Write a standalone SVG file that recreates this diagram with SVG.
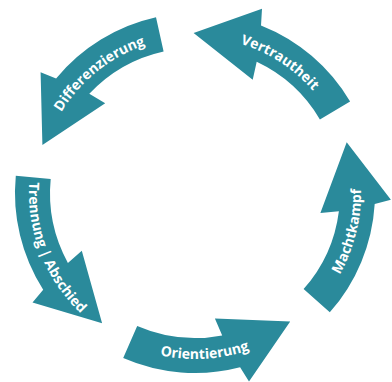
<svg xmlns="http://www.w3.org/2000/svg" width="392" height="382" viewBox="0 0 392 382">
  <!-- Five-stage cycle: curved block arrows around centre (195,193), band r=145..180 -->
  <style>
    .arrow { fill: #2a8a9b; }
    .label { fill: #ffffff; font-family: "Open Sans", "Liberation Sans", sans-serif; font-weight: 700; font-size: 14px; }
  </style>
  <defs>
    <!-- label baselines: counter-clockwise arcs (tops inward) at r=166, clockwise arcs (tops outward) at r=156 -->
    <path id="p-orientierung" d="M85,317.3 A166,166 0 0,0 319.3,303.0"/>
    <path id="p-machtkampf" d="M280.5,335.3 A166,166 0 0,0 337.3,107.5"/>
    <path id="p-vertrautheit" d="M162.6,40.4 A156,156 0 0,1 347.6,160.6"/>
    <path id="p-differenzierung" d="M39.9,175.9 A156,156 0 0,1 212.1,37.9"/>
    <path id="p-trennung" d="M42.9,126.5 A166,166 0 0,0 128.5,345.1"/>
  </defs>
  <rect width="392" height="382" fill="#ffffff"/>

  <g id="stage-orientierung">
    <path class="arrow" d="M123.2,358.1 A180,180 0 0,0 240.1,367.3 L249.0,381.4 L290.2,321.6 L214.9,318.4 L222.2,335.4 A145,145 0 0,1 137.2,326.0 Z"/>
    <text class="label"><textPath href="#p-orientierung" startOffset="50%" text-anchor="middle">Orientierung</textPath></text>
  </g>

  <g id="stage-machtkampf">
    <path class="arrow" d="M329.8,312.3 A180,180 0 0,0 374.7,204.0 L390.9,199.8 L346.7,142.2 L320.4,212.9 L338.9,211.2 A145,145 0 0,1 303.6,289.1 Z"/>
    <text class="label"><textPath href="#p-machtkampf" startOffset="50%" text-anchor="middle">Machtkampf</textPath></text>
  </g>

  <g id="stage-vertrautheit">
    <path class="arrow" d="M350.1,101.6 A180,180 0 0,0 261.0,25.5 L262.0,8.8 L193.6,33.0 L252.7,79.8 L256.7,61.8 A145,145 0 0,1 319.9,119.4 Z"/>
    <text class="label"><textPath href="#p-vertrautheit" startOffset="50%" text-anchor="middle">Vertrautheit</textPath></text>
  </g>

  <g id="stage-differenzierung">
    <path class="arrow" d="M156.0,17.3 A180,180 0 0,0 56.1,78.5 L40.6,72.3 L42.4,144.9 L105.2,103.2 L89.3,93.7 A145,145 0 0,1 163.6,51.4 Z"/>
    <text class="label"><textPath href="#p-differenzierung" startOffset="50%" text-anchor="middle">Differenzierung</textPath></text>
  </g>

  <g id="stage-trennung">
    <path class="arrow" d="M15.8,175.7 A180,180 0 0,0 43.2,289.7 L32.5,302.6 L102.1,323.3 L81.8,250.7 L67.9,262.9 A145,145 0 0,1 50.7,179.1 Z"/>
    <text class="label"><textPath href="#p-trennung" startOffset="50%" text-anchor="middle">Trennung | Abschied</textPath></text>
  </g>
</svg>
